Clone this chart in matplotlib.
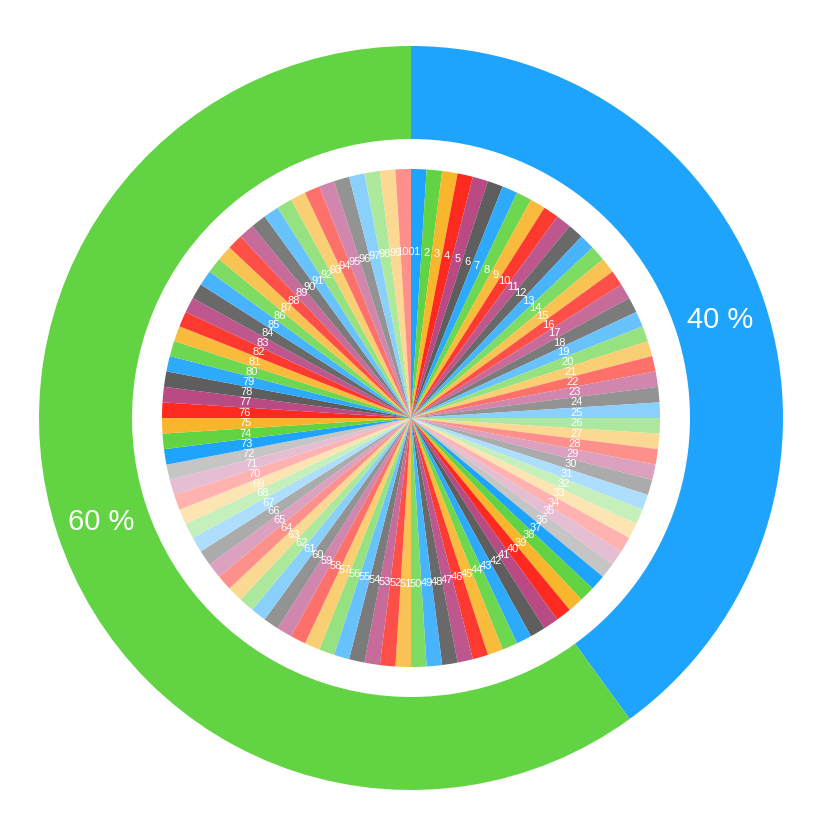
import matplotlib
matplotlib.use("Agg")
import matplotlib.pyplot as plt
import numpy as np
from matplotlib.colors import to_rgb

plt.rcParams['font.family'] = ['Liberation Sans', 'DejaVu Sans']

# ---- data ----
outer_labels = ["40 %", "60 %"]
outer_values = [40, 60]

inner_labels = [
    "1", "2", "3", "4", "5", "6", "7", "8", "9", "10",
    "11", "12", "13", "14", "15", "16", "17", "18", "19", "20",
    "21", "22", "23", "24", "25", "26", "27", "28", "29", "30",
    "31", "32", "33", "34", "35", "36", "37", "38", "39", "40",
    "41", "42", "43", "44", "45", "46", "47", "48", "49", "50",
    "51", "52", "53", "54", "55", "56", "57", "58", "59", "60",
    "61", "62", "63", "64", "65", "66", "67", "68", "69", "70",
    "71", "72", "73", "74", "75", "76", "77", "78", "79", "80",
    "81", "82", "83", "84", "85", "86", "87", "88", "89", "90",
    "91", "92", "93", "94", "95", "96", "97", "98", "99", "100",
]
inner_values = [
    1, 1, 1, 1, 1, 1, 1, 1, 1, 1,
    1, 1, 1, 1, 1, 1, 1, 1, 1, 1,
    1, 1, 1, 1, 1, 1, 1, 1, 1, 1,
    1, 1, 1, 1, 1, 1, 1, 1, 1, 1,
    1, 1, 1, 1, 1, 1, 1, 1, 1, 1,
    1, 1, 1, 1, 1, 1, 1, 1, 1, 1,
    1, 1, 1, 1, 1, 1, 1, 1, 1, 1,
    1, 1, 1, 1, 1, 1, 1, 1, 1, 1,
    1, 1, 1, 1, 1, 1, 1, 1, 1, 1,
    1, 1, 1, 1, 1, 1, 1, 1, 1, 1,
]

# ---- style ----
base_colors = ["#1EA4FC", "#62D443", "#F8B62D", "#FE2A20", "#B94A84", "#5E5E5E"]
tints = [0.0, 0.07, 0.18, 0.33, 0.48, 0.64]


def tint(c, t):
    r, g, b = to_rgb(c)
    return (r + (1 - r) * t, g + (1 - g) * t, b + (1 - b) * t)


palette = [tint(c, t) for t in tints for c in base_colors]
inner_colors = [palette[i % len(palette)] for i in range(len(inner_values))]
outer_colors = [base_colors[0], base_colors[1]]

W, H = 832, 836
fig = plt.figure(figsize=(W / 100, H / 100), dpi=100)
ax = fig.add_axes([0, 0, 1, 1])
ax.set_xlim(0, W)
ax.set_ylim(0, H)
ax.set_aspect('equal')
ax.axis('off')

cx, cy = 411, H - 418
R_out, R_ring_in, R_pie = 372, 279, 249

wedges, texts = ax.pie(
    outer_values, colors=outer_colors, labels=outer_labels,
    startangle=90, counterclock=False, radius=R_out, center=(cx, cy),
    labeldistance=((R_out + R_ring_in) / 2) / R_out,
    wedgeprops=dict(width=R_out - R_ring_in, linewidth=0),
    textprops=dict(color='white', fontsize=21),
)
for t in texts:
    t.set_ha('center')
    t.set_va('center')
    x, y = t.get_position()
    t.set_position((x, y - 3))

wedges2, texts2 = ax.pie(
    inner_values, colors=inner_colors, labels=inner_labels,
    startangle=90, counterclock=False, radius=R_pie, center=(cx, cy),
    labeldistance=166 / R_pie,
    wedgeprops=dict(linewidth=0),
    textprops=dict(color='white', fontsize=8),
)
for t in texts2:
    t.set_ha('center')
    t.set_va('center')

ax.set_xlim(0, W)
ax.set_ylim(0, H)
fig.savefig("out.png", dpi=100, facecolor='white')
